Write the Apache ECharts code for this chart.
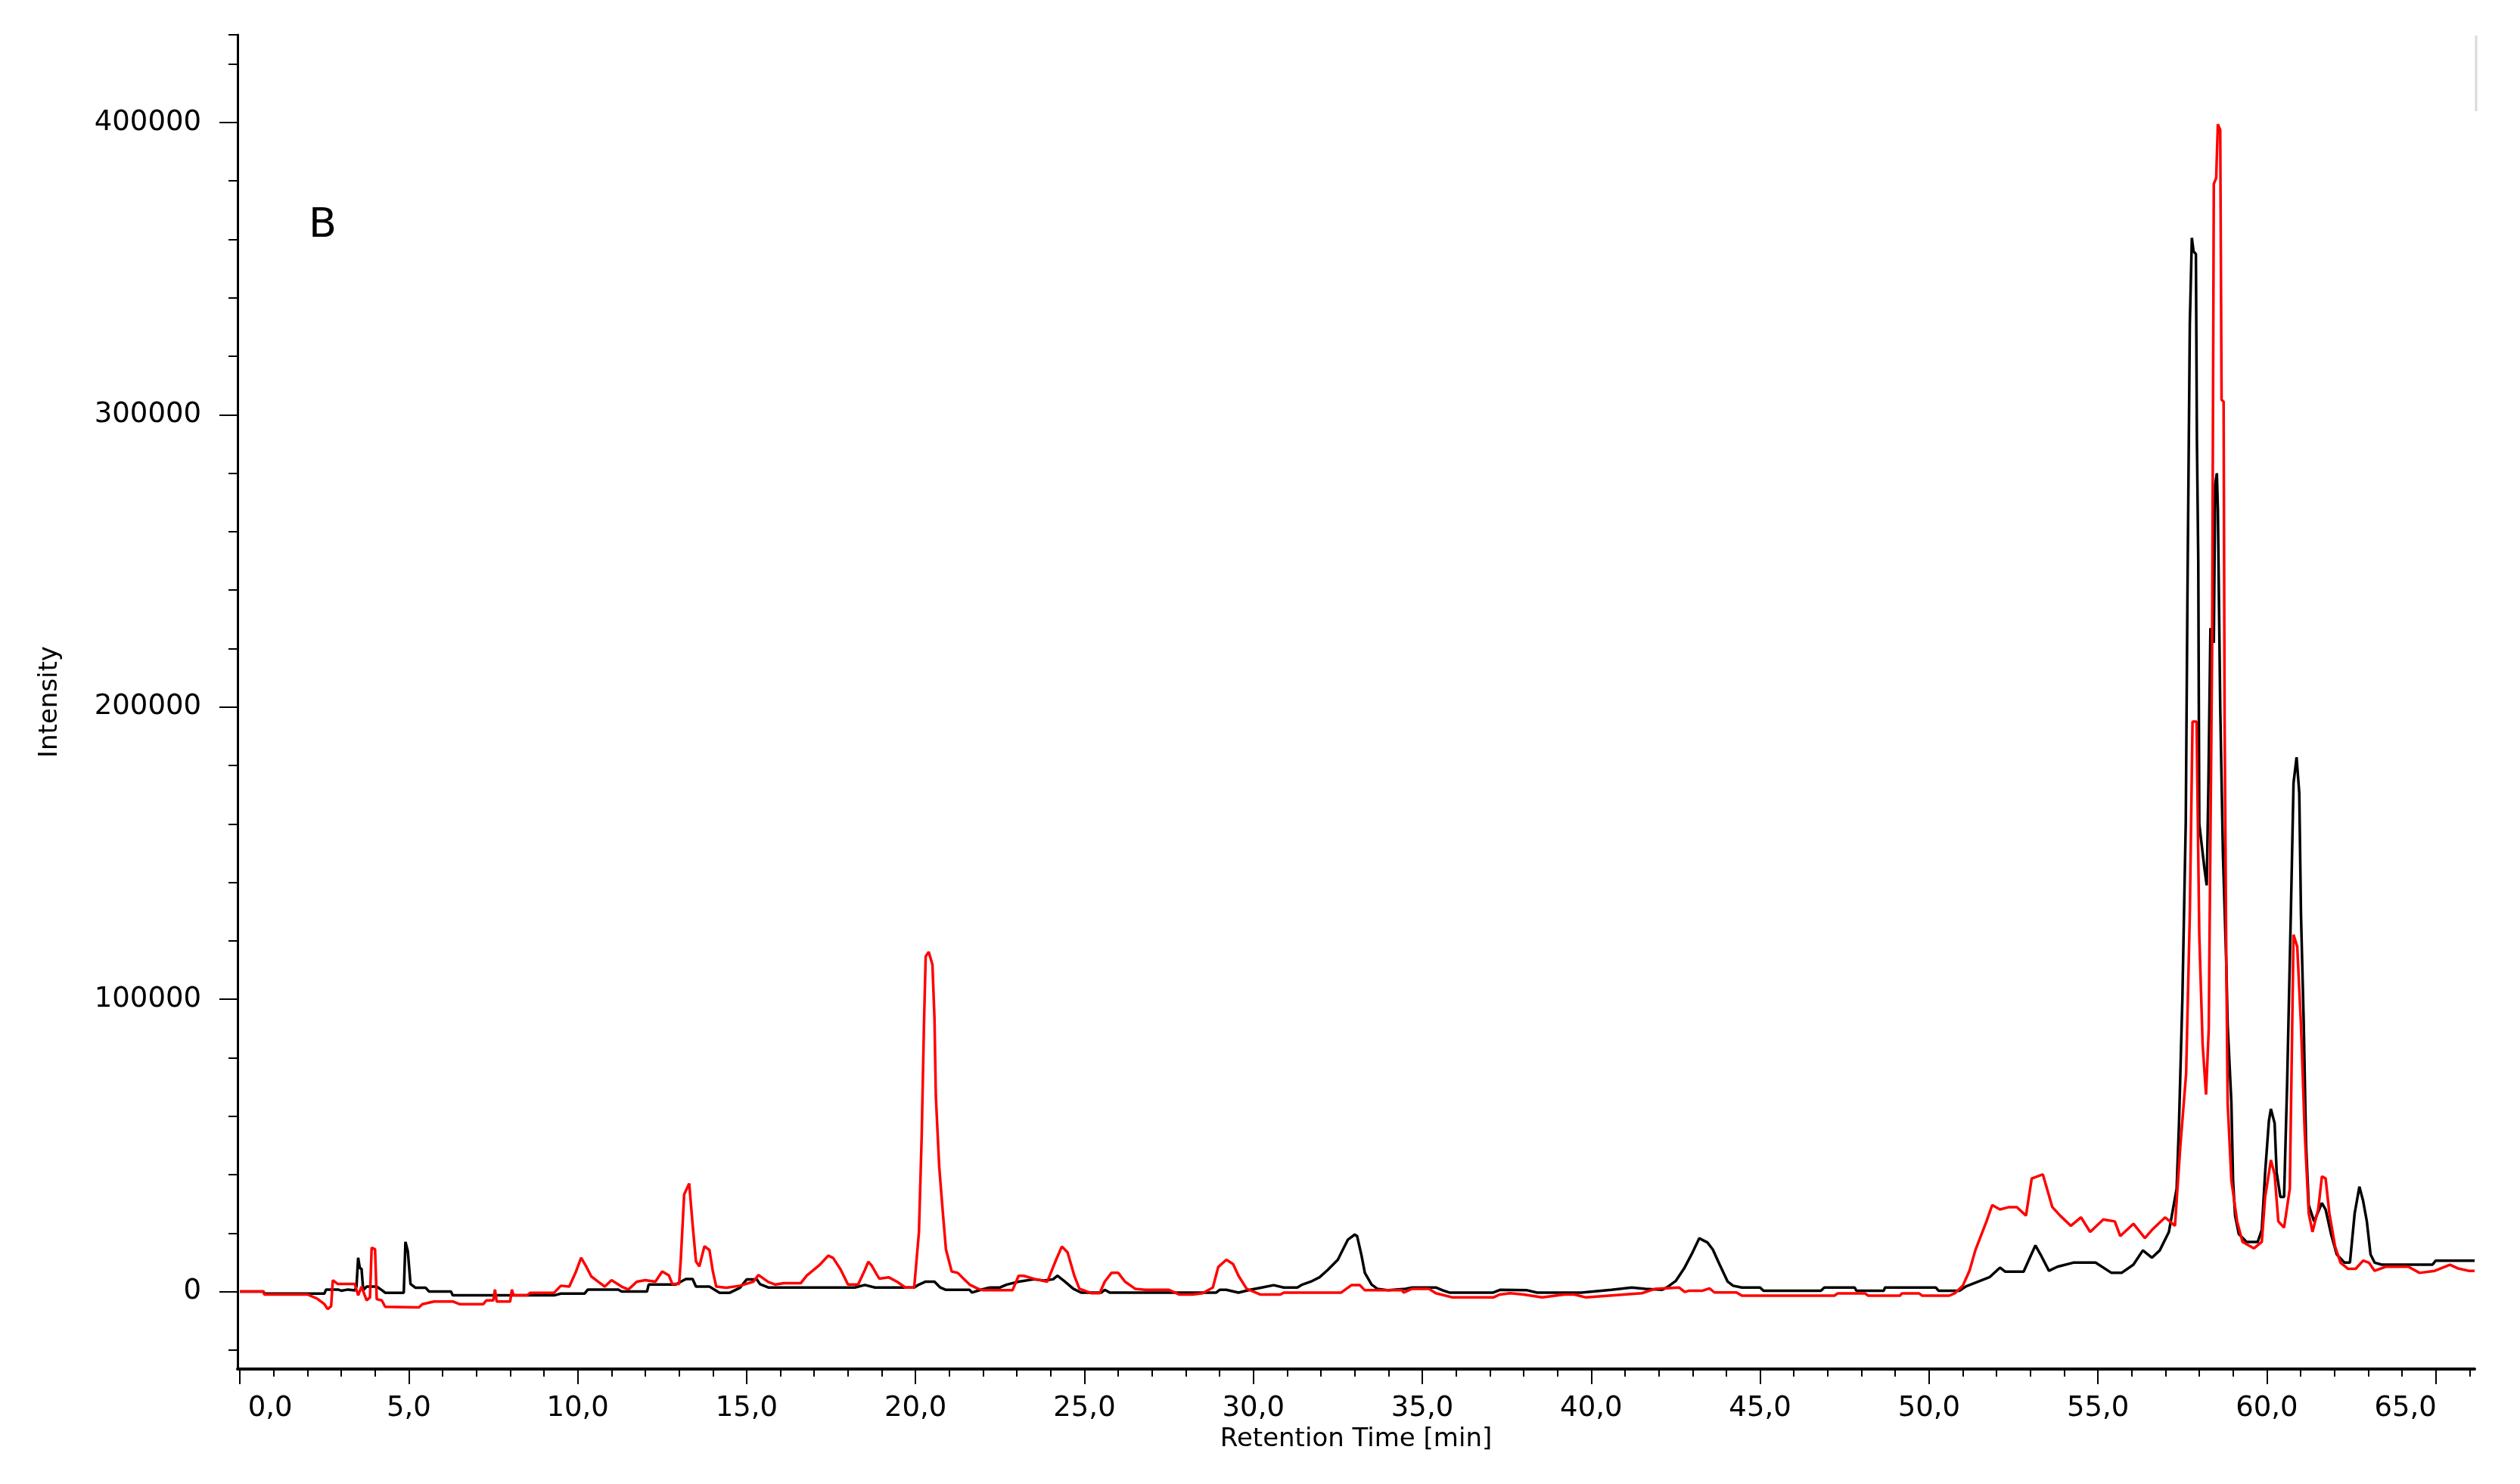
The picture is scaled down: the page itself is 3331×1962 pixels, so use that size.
<!DOCTYPE html>
<html>
<head>
<meta charset="utf-8">
<script src="https://cdn.jsdelivr.net/npm/echarts@6/dist/echarts.min.js"></script>
<style>
  html, body {margin: 0; padding: 0; background: #fff;}
  #chart {width: 3331px; height: 1962px;}
</style>
</head>
<body>
<div id="chart"></div>
<script>
// tick positions
var majorX = [0, 5, 10, 15, 20, 25, 30, 35, 40, 45, 50, 55, 60, 65]
var minorX = []
for (var i = 0; i <= 66; i++) minorX.push(i)
var majorY = [0, 100000, 200000, 300000, 400000]
var minorY = []
for (var j = -20000; j <= 420000; j += 20000) minorY.push(j)
minorY.push(430000)

// black trace: [retention time (min), intensity]
var blackTrace = [
    [0, 0], [0.7, 0], [0.72, -700], [2.5, -700], [2.55, 700], [2.9, 700], [3.0, 300], [3.2, 700], [3.4, 400],
    [3.45, 1700], [3.5, 11600], [3.55, 8000], [3.6, 7800], [3.65, 500], [3.75, 1700], [4.05, 1700], [4.2, 500],
    [4.3, -400], [4.85, -400], [4.9, 17000], [4.97, 13800], [5.05, 2600], [5.2, 1300], [5.5, 1300], [5.6, 0],
    [6.25, 0], [6.3, -1300], [9.3, -1300], [9.5, -700], [10.2, -700], [10.3, 700], [11.2, 700], [11.3, 0],
    [12.05, 0], [12.1, 2400], [12.9, 2400], [13.2, 4300], [13.4, 4300], [13.5, 1700], [13.9, 1700], [14.2, -400],
    [14.5, -400], [14.8, 1300], [15.0, 4150], [15.3, 4150], [15.4, 2500], [15.64, 1400], [18.2, 1400], [18.5, 2250],
    [18.8, 1400], [19.96, 1400], [20.1, 2400], [20.3, 3400], [20.56, 3400], [20.73, 1400], [20.9, 600], [21.6, 600],
    [21.67, -350], [21.93, 600], [22.2, 1400], [22.5, 1400], [22.7, 2400], [23.05, 3400], [23.5, 4200], [23.8, 3800],
    [24.07, 4200], [24.2, 5400], [24.4, 3600], [24.67, 950], [24.9, -350], [25.5, -350], [25.6, 600], [25.75, -350],
    [28.9, -350], [29.0, 600], [29.2, 600], [29.56, -350], [29.9, 600], [30.25, 1400], [30.6, 2200], [30.9, 1400],
    [31.3, 1400], [31.45, 2400], [31.7, 3400], [31.96, 4900], [32.2, 7400], [32.5, 10900], [32.65, 14400],
    [32.8, 17800], [33.0, 19500], [33.07, 19000], [33.2, 12400], [33.3, 6400], [33.5, 2400], [33.67, 950],
    [34.0, 450], [34.5, 950], [34.7, 1400], [35.4, 1400], [35.6, 450], [35.8, -350], [37.1, -350], [37.3, 600],
    [38.1, 450], [38.4, -350], [39.7, -350], [40.6, 600], [41.2, 1400], [41.6, 950], [42.1, 600], [42.24, 1400],
    [42.5, 3600], [42.75, 7900], [43.0, 13400], [43.2, 18300], [43.27, 17800], [43.44, 16800], [43.6, 14400],
    [43.8, 9300], [44.04, 3400], [44.2, 2000], [44.46, 1400], [45.0, 1400], [45.1, 300], [46.8, 300], [46.9, 1400],
    [47.8, 1400], [47.85, 300], [48.66, 300], [48.7, 1400], [50.2, 1400], [50.28, 300], [50.9, 300], [51.1, 1800],
    [51.5, 3600], [51.8, 5000], [52.1, 8200], [52.26, 6800], [52.8, 6800], [53.0, 12000], [53.15, 15800],
    [53.3, 12700], [53.55, 7100], [53.8, 8500], [54.27, 9900], [54.93, 9900], [55.4, 6400], [55.7, 6400],
    [56.05, 9200], [56.33, 14100], [56.6, 11600], [56.83, 14100], [57.1, 20400], [57.33, 35200], [57.4, 57600],
    [57.5, 100400], [57.6, 160700], [57.65, 238600], [57.72, 330900], [57.78, 360500], [57.83, 355900],
    [57.9, 355000], [57.93, 291300], [57.97, 250000], [58.0, 160000], [58.15, 145000], [58.22, 139000],
    [58.27, 173000], [58.33, 227000], [58.43, 222000], [58.47, 276000], [58.52, 280000], [58.55, 268000],
    [58.62, 200000], [58.7, 150000], [58.8, 112000], [58.84, 91300], [58.95, 64600], [59.0, 38000], [59.06, 26000],
    [59.17, 19700], [59.4, 17000], [59.73, 17000], [59.85, 21100], [59.95, 40800], [60.06, 58300], [60.12, 62500],
    [60.23, 57600], [60.29, 40800], [60.4, 32400], [60.51, 32400], [60.6, 71000], [60.71, 129200], [60.79, 174000],
    [60.88, 182800], [60.96, 170600], [61.01, 129200], [61.09, 92700], [61.16, 50600], [61.24, 29600],
    [61.4, 24000], [61.63, 30300], [61.74, 28100], [61.9, 19700], [62.07, 12700], [62.3, 9900], [62.46, 9900],
    [62.6, 26800], [62.74, 35900], [62.85, 31000], [62.96, 24000], [63.07, 12700], [63.19, 9900], [63.4, 9200],
    [64.9, 9200], [65.0, 10600], [66.15, 10600]
]

// red trace: [retention time (min), intensity]
var redTrace = [
    [0, 0], [0.7, 0], [0.72, -1000], [2.0, -1000], [2.3, -2500], [2.5, -4300], [2.6, -6000], [2.7, -5000],
    [2.75, 3900], [2.9, 2600], [3.4, 2600], [3.5, -1300], [3.6, 1700], [3.75, -3000], [3.85, -2000], [3.9, 15000],
    [4.0, 14500], [4.05, -2600], [4.2, -3000], [4.3, -5200], [5.3, -5400], [5.4, -4300], [5.75, -3400], [6.3, -3400],
    [6.5, -4300], [7.2, -4300], [7.3, -3000], [7.5, -3000], [7.55, 700], [7.6, -3400], [8.0, -3400], [8.05, 700],
    [8.1, -1300], [8.5, -1300], [8.6, -400], [9.3, -400], [9.5, 2000], [9.75, 1700], [9.95, 6900], [10.1, 11600],
    [10.25, 8600], [10.4, 5200], [10.6, 3400], [10.8, 1700], [11.0, 3900], [11.3, 1700], [11.5, 700], [11.75, 3400],
    [12.0, 3900], [12.3, 3400], [12.5, 6900], [12.7, 5500], [12.8, 2600], [13.0, 2600], [13.05, 10800],
    [13.15, 33200], [13.3, 37000], [13.4, 23000], [13.5, 10300], [13.6, 8600], [13.75, 15500], [13.9, 14200],
    [14.0, 6900], [14.1, 1700], [14.4, 1300], [14.8, 2000], [15.2, 3400], [15.35, 5700], [15.64, 3300],
    [15.85, 2400], [16.1, 2850], [16.6, 2850], [16.78, 5500], [17.14, 8900], [17.42, 12300], [17.56, 11500],
    [17.78, 7600], [18.0, 2400], [18.3, 2400], [18.5, 7400], [18.6, 10200], [18.7, 8900], [18.85, 5900],
    [18.93, 4400], [19.2, 4900], [19.45, 3400], [19.7, 1400], [19.96, 1400], [20.1, 20300], [20.18, 52600],
    [20.25, 91900], [20.3, 114700], [20.39, 116200], [20.5, 111800], [20.56, 93400], [20.6, 67000], [20.7, 42700],
    [20.82, 25300], [20.9, 14400], [21.07, 6900], [21.25, 6400], [21.42, 4400], [21.6, 2400], [21.85, 950],
    [22.0, 450], [22.87, 450], [23.05, 5400], [23.2, 5400], [23.5, 4400], [23.9, 3400], [24.16, 10900],
    [24.33, 15400], [24.5, 13400], [24.7, 5400], [24.85, 950], [25.2, -550], [25.45, -550], [25.6, 3400],
    [25.8, 6400], [26.0, 6400], [26.2, 3400], [26.5, 950], [26.8, 600], [27.5, 600], [27.8, -1000], [28.2, -1000],
    [28.5, -550], [28.8, 1400], [28.96, 8400], [29.2, 10900], [29.4, 9400], [29.56, 5400], [29.8, 950],
    [30.2, -1000], [30.8, -1000], [30.9, -350], [32.6, -350], [32.9, 2200], [33.15, 2200], [33.3, 450], [34.4, 450],
    [34.45, -350], [34.7, 950], [35.2, 950], [35.4, -550], [35.9, -2000], [37.1, -2000], [37.3, -1000],
    [37.6, -550], [38.0, -1000], [38.55, -2000], [39.2, -1000], [39.5, -1000], [39.85, -2000], [41.5, -550],
    [41.9, 950], [42.6, 1400], [42.77, -150], [42.9, 300], [43.3, 300], [43.5, 1100], [43.65, -300], [44.3, -300],
    [44.46, -1400], [47.2, -1400], [47.3, -600], [48.1, -600], [48.2, -1400], [49.14, -1400], [49.2, -600],
    [49.7, -600], [49.8, -1400], [50.6, -1400], [50.76, -600], [51.0, 2000], [51.2, 7200], [51.37, 14100],
    [51.7, 24000], [51.87, 29600], [52.1, 28100], [52.37, 28900], [52.6, 28900], [52.87, 26000], [53.04, 38700],
    [53.37, 40100], [53.65, 28900], [53.88, 26000], [54.2, 22500], [54.5, 25400], [54.77, 20400], [55.16, 24700],
    [55.5, 24000], [55.66, 19000], [56.05, 23200], [56.39, 18300], [56.6, 21100], [56.99, 25400], [57.28, 22500],
    [57.44, 49900], [57.61, 74500], [57.72, 129200], [57.8, 195000], [57.92, 195000], [58.0, 122100],
    [58.1, 84300], [58.2, 67400], [58.28, 89900], [58.38, 220000], [58.43, 379000], [58.5, 381000],
    [58.55, 399400], [58.62, 397400], [58.66, 305100], [58.72, 304500], [58.75, 195000], [58.8, 112300],
    [58.84, 64600], [58.95, 38000], [59.12, 24000], [59.28, 17000], [59.62, 14800], [59.85, 17000], [59.95, 32400],
    [60.12, 45000], [60.23, 40100], [60.34, 24000], [60.51, 21900], [60.68, 35200], [60.79, 122100],
    [60.9, 118000], [61.01, 91300], [61.12, 54800], [61.24, 26800], [61.35, 20400], [61.52, 28100], [61.63, 39400],
    [61.74, 38700], [61.85, 26800], [62.02, 15500], [62.18, 9900], [62.4, 7800], [62.63, 7800], [62.85, 10600],
    [63.02, 9900], [63.19, 7100], [63.52, 8500], [64.19, 8500], [64.52, 6400], [64.97, 7100], [65.42, 9200],
    [65.64, 8000], [65.97, 7100], [66.15, 7100]
]

var font = 'DejaVu Sans'
var xMin = -0.07, xMax = 66.15
var yMin = -26500, yMax = 430000

var myChart = echarts.init(document.getElementById('chart'))
myChart.setOption({
    animation: false,
    backgroundColor: '#fff',
    grid: {left: 314, right: 60, top: 46, bottom: 152, containLabel: false},
    xAxis: [
        {
            type: 'value', min: xMin, max: xMax,
            name: 'Retention Time [min]', nameLocation: 'middle', nameGap: 71,
            nameTextStyle: {fontFamily: font, fontSize: 34, color: '#000'},
            axisLine: {show: true, onZero: false, lineStyle: {color: '#000', width: 4}},
            axisTick: {show: true, customValues: majorX, length: 20, lineStyle: {color: '#000', width: 2}},
            axisLabel: {
                show: true, customValues: majorX, margin: 34,
                fontFamily: font, fontSize: 37, color: '#000',
                formatter: function (v) {
                    var s = v.toFixed(1).replace('.', ',')
                    if (v === 0) return '{l|' + s + '}'
                    if (v === 65) return '{r|' + s + '}'
                    return s
                },
                rich: {
                    l: {fontFamily: font, fontSize: 37, color: '#000', padding: [0, 0, 0, 80]},
                    r: {fontFamily: font, fontSize: 37, color: '#000', padding: [0, 80, 0, 0]}
                }
            },
            splitLine: {show: false}
        },
        {
            type: 'value', min: xMin, max: xMax, position: 'bottom',
            axisLine: {show: false, onZero: false},
            axisTick: {show: true, customValues: minorX, length: 10, lineStyle: {color: '#000', width: 2}},
            axisLabel: {show: false},
            splitLine: {show: false}
        }
    ],
    yAxis: [
        {
            type: 'value', min: yMin, max: yMax,
            name: 'Intensity', nameLocation: 'middle', nameGap: 231,
            nameTextStyle: {fontFamily: font, fontSize: 34, color: '#000'},
            axisLine: {show: true, onZero: false, lineStyle: {color: '#000', width: 3}},
            axisTick: {show: true, customValues: majorY, length: 24, lineStyle: {color: '#000', width: 2}},
            axisLabel: {
                show: true, customValues: majorY, margin: 48,
                fontFamily: font, fontSize: 37, color: '#000',
                formatter: function (v) { return String(v) }
            },
            splitLine: {show: false}
        },
        {
            type: 'value', min: yMin, max: yMax, position: 'left',
            axisLine: {show: false, onZero: false},
            axisTick: {show: true, customValues: minorY, length: 12, lineStyle: {color: '#000', width: 2}},
            axisLabel: {show: false},
            splitLine: {show: false}
        }
    ],
    graphic: [
        {type: 'text', left: 408, top: 272, style: {text: 'B', fontFamily: font, fontSize: 54, fill: '#000'}},
        {type: 'line', shape: {x1: 3273, y1: 47, x2: 3273, y2: 147}, style: {stroke: '#d9d9d9', lineWidth: 3}}
    ],
    series: [
        {
            name: 'black', type: 'line', data: blackTrace, showSymbol: false,
            lineStyle: {color: '#000', width: 3.5}, xAxisIndex: 0, yAxisIndex: 0, z: 2
        },
        {
            name: 'red', type: 'line', data: redTrace, showSymbol: false,
            lineStyle: {color: '#ff0000', width: 3.5}, xAxisIndex: 0, yAxisIndex: 0, z: 3
        }
    ]
})
</script>
</body>
</html>
